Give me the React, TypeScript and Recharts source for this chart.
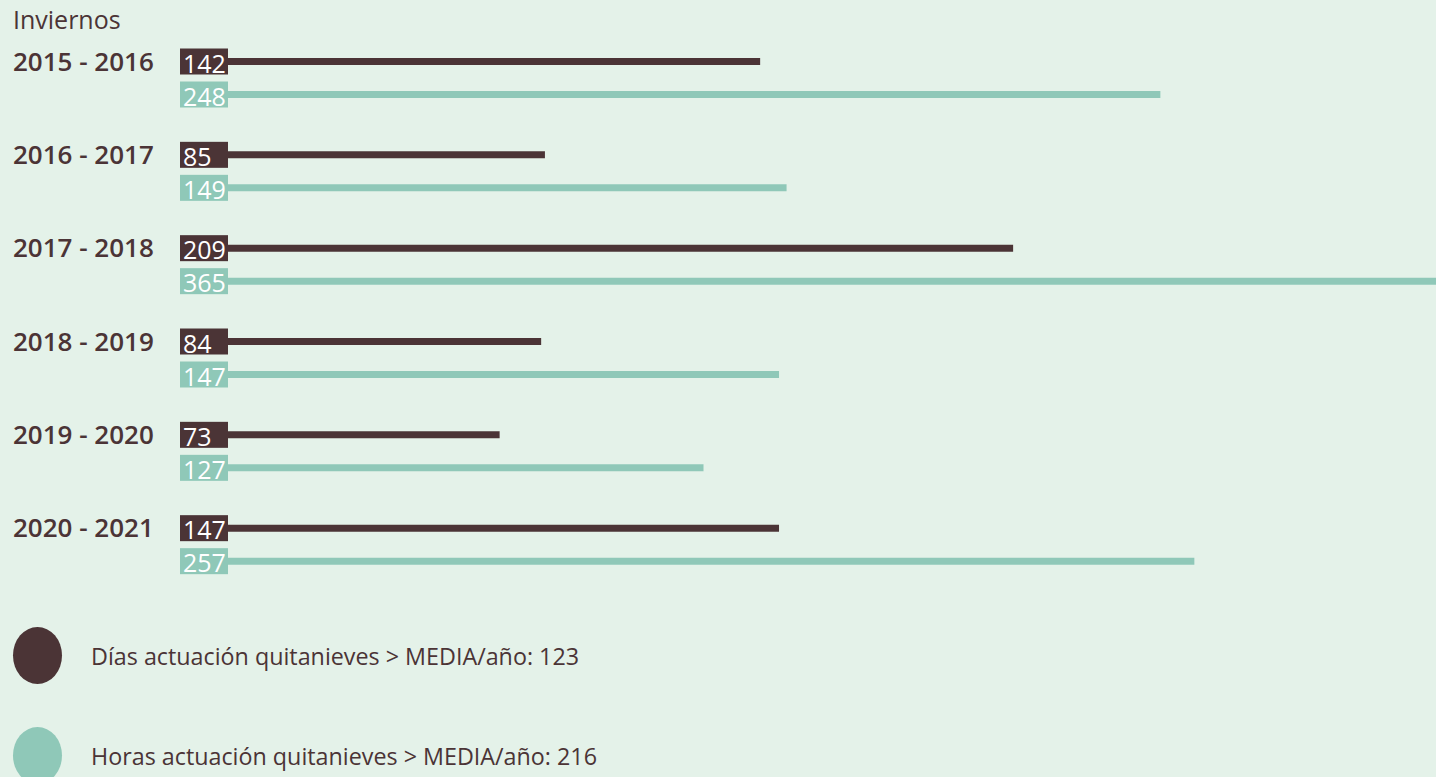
import { BarChart, Bar, XAxis, YAxis, LabelList } from "recharts"

const seasons = ["2015 - 2016", "2016 - 2017", "2017 - 2018", "2018 - 2019", "2019 - 2020", "2020 - 2021"]
const days = [142, 85, 209, 84, 73, 147]
const hours = [248, 149, 365, 147, 127, 257]
const legendItems = [
  { label: "Días actuación quitanieves > MEDIA/año: 123", color: "#4b3436" },
  { label: "Horas actuación quitanieves > MEDIA/año: 216", color: "#8fc8b8" },
]

const DARK = "#4b3436"
const TEAL = "#8fc8b8"
const BG = "#e4f2e9"
const FONT = "'Open Sans', sans-serif"

const data = seasons.map((season, i) => ({ season, days: days[i], hours: hours[i] }))

// value box drawn over the start of each bar
const boxLabel = (color: string) => (props: any) => {
  const { x, y, height, value } = props
  const cy = y + height / 2
  return (
    <g>
      <rect x={x - 44} y={cy - 13} width={48} height={26} fill={color} />
      <text x={x - 41} y={cy + 1} dominantBaseline="central" fill="#fff" fontSize={25} fontFamily={FONT}>
        {value}
      </text>
    </g>
  )
}

const SeasonTick = ({ y, payload }: any) => (
  <text x={13} y={y - 17} dominantBaseline="central" fill={DARK} fontSize={26} fontWeight={600} fontFamily={FONT}>
    {payload.value}
  </text>
)

export default function App() {
  return (
    <div
      style={{
        position: "absolute",
        left: 0,
        top: 0,
        width: 1436,
        height: 777,
        background: BG,
        overflow: "hidden",
        fontFamily: FONT,
        color: DARK,
      }}
    >
      <div style={{ position: "absolute", left: 13, top: 2, fontSize: 25 }}>Inviernos</div>
      <BarChart
        width={1436}
        height={600}
        data={data}
        layout="vertical"
        margin={{ top: 31, right: 0, bottom: 9, left: 0 }}
        barSize={7}
        barGap={26}
      >
        <XAxis type="number" hide domain={[0, 321]} allowDataOverflow />
        <YAxis type="category" dataKey="season" width={224} axisLine={false} tickLine={false} tick={<SeasonTick />} />
        <Bar dataKey="days" fill={DARK} isAnimationActive={false}>
          <LabelList dataKey="days" content={boxLabel(DARK)} />
        </Bar>
        <Bar dataKey="hours" fill={TEAL} isAnimationActive={false}>
          <LabelList dataKey="hours" content={boxLabel(TEAL)} />
        </Bar>
      </BarChart>
      {legendItems.map((item, i) => (
        <div key={item.label} style={{ position: "absolute", left: 13, top: 627 + i * 100, display: "flex", alignItems: "center" }}>
          <div style={{ width: 49, height: 57, borderRadius: "50%", background: item.color }} />
          <span style={{ marginLeft: 29, fontSize: 23.3 }}>{item.label}</span>
        </div>
      ))}
    </div>
  )
}
